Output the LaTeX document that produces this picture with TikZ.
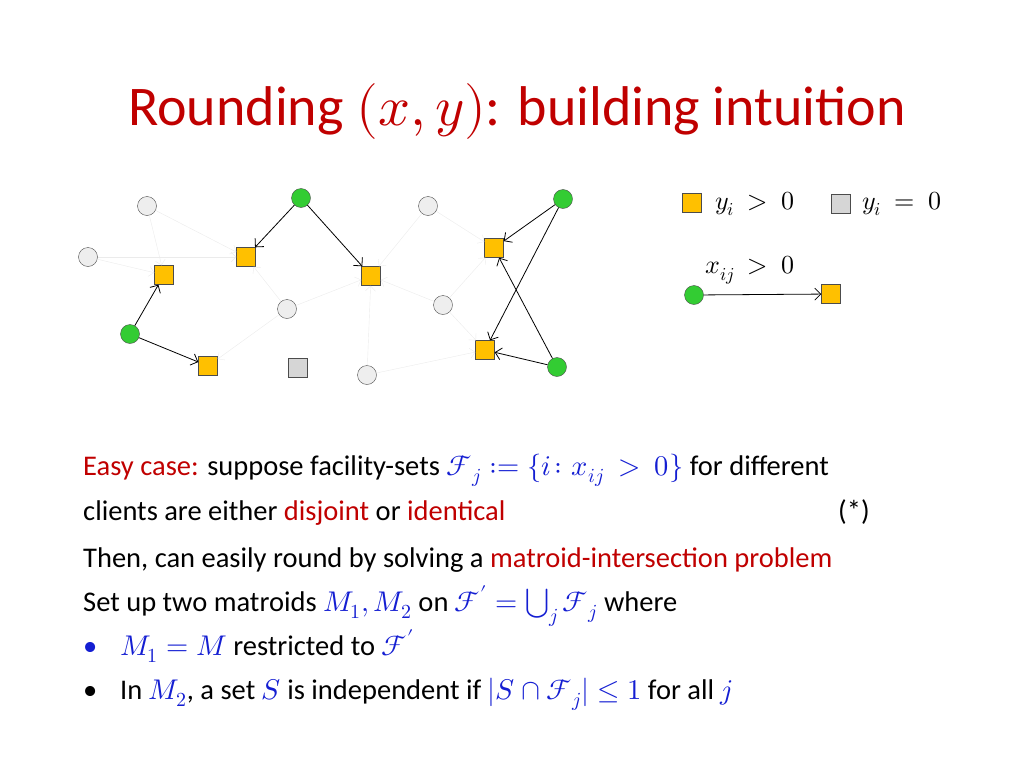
\documentclass[tikz,border=0pt]{standalone}
\usepackage{amsmath}
\usepackage{unicode-math}
\setmainfont{Carlito}
\setmathfont{Latin Modern Math}
\usetikzlibrary{arrows.meta}
\definecolor{tred}{RGB}{192,0,0}
\definecolor{mblue}{RGB}{20,30,210}
\definecolor{ggreen}{RGB}{51,204,51}
\definecolor{yel}{RGB}{255,192,0}
\definecolor{lg}{RGB}{238,238,238}
\newcommand{\mb}[1]{\textcolor{mblue}{$#1$}}
\begin{document}
\begin{tikzpicture}[x=1pt,y=-1pt,
  gc/.style={circle,draw=black!70,fill=lg,minimum size=19pt,inner sep=0pt},
  grc/.style={circle,draw=black!70,fill=ggreen,minimum size=19pt,inner sep=0pt},
  ys/.style={rectangle,draw=black!70,fill=yel,minimum size=19pt,inner sep=0pt},
  gs/.style={rectangle,draw=black!70,fill=lg!90!black,minimum size=19pt,inner sep=0pt},
  faint/.style={draw=black!8,-{Straight Barb[length=5pt]}},
  strong/.style={draw=black,thick,-{Straight Barb[length=6pt]}},
  txt/.style={anchor=base west,inner sep=0pt,font=\fontsize{28.5}{32}\selectfont}]
\useasboundingbox (0,0) rectangle (1024,768);
\node[anchor=base,inner sep=0pt,text=tred,font=\fontsize{56}{62}\selectfont] (title) at (517,125) {Rounding $(x,y)$: building intuition};
% graph
\node[gc] (g1) at (147,206) {};
\node[gc] (g2) at (88,257) {};
\node[gc] (g3) at (287,309) {};
\node[gc] (g4) at (428,206) {};
\node[gc] (g5) at (443,305) {};
\node[gc] (g6) at (367,375) {};
\node[grc] (G1) at (301,198) {};
\node[grc] (G2) at (130,334) {};
\node[grc] (G3) at (563,199) {};
\node[grc] (G4) at (557,367) {};
\node[ys] (s1) at (164,275) {};
\node[ys] (s2) at (246,257) {};
\node[ys] (s3) at (371,276) {};
\node[ys] (s4) at (208,366) {};
\node[ys] (s5) at (494,248) {};
\node[ys] (s6) at (485,350) {};
\node[gs] (gq) at (298,368) {};
\foreach \a/\b in {g1/s1,g1/s2,g2/s2,g2/s1,g3/s2,g3/s3,g3/s4,g4/s3,g4/s5,g5/s3,g5/s5,g5/s6,g6/s3,g6/s6}
  \draw[faint] (\a) -- (\b);
\foreach \a/\b in {G1/s2,G1/s3,G2/s1,G2/s4,G3/s5,G3/s6,G4/s6,G4/s5}
  \draw[strong] (\a) -- (\b);
% legend
\node[ys] (ly) at (692,203) {};
\node[anchor=west,inner sep=0pt,font=\fontsize{26}{30}\selectfont] (lyt) at (715,204) {$y_i\ >\ 0$};
\node[gs] (lg) at (841,204) {};
\node[anchor=west,inner sep=0pt,font=\fontsize{26}{30}\selectfont] (lgt) at (862,204) {$y_i\ =\ 0$};
\node[anchor=west,inner sep=0pt,font=\fontsize{26}{30}\selectfont] (lxt) at (705,270) {$x_{ij}\ >\ 0$};
\node[grc] (lgr) at (694,295) {};
\node[ys] (lys) at (831,294) {};
\draw[strong] (lgr) -- (lys);
% text
\node[txt] (t1) at (83,475) {\textcolor{tred}{Easy case:} suppose facility-sets \mb{\mathcal{F}_j \mathrel{:=} \{i\colon x_{ij}\ >\ 0\}} for different};
\node[txt] (t2) at (83,520) {clients are either \textcolor{tred}{disjoint} or \textcolor{tred}{identical}};
\node[txt] (t2b) at (838,520) {(*)};
\node[txt] (t3) at (83,567) {Then, can easily round by solving a \textcolor{tred}{matroid-intersection problem}};
\node[txt] (t4) at (83,611) {Set up two matroids \mb{M_1,M_2} on \mb{\mathcal{F}'=\bigcup_j\mathcal{F}_j} where};
\node[txt] (b1) at (83,655) {\textcolor{mblue}{\textbullet}};
\node[txt] (t5) at (120,655) {\mb{M_1=M} restricted to \mb{\mathcal{F}'}};
\node[txt] (b2) at (83,699) {\textbullet};
\node[txt] (t6) at (120,699) {In \mb{M_2}, a set \mb{S} is independent if \mb{|S\cap\mathcal{F}_j|\le 1} for all \mb{j}};
\end{tikzpicture}
\end{document}
